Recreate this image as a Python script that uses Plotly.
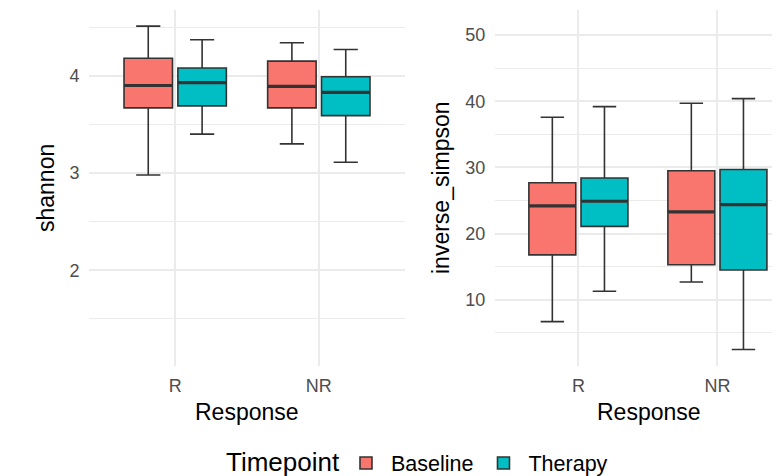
import plotly.graph_objects as go

# ---- data ----
responses = ["R", "NR"]
timepoints = ["Baseline", "Therapy"]
colors = {"Baseline": "#F8766D", "Therapy": "#00BFC4"}

# shannon: per timepoint, values for R and NR
shannon_low = {"Baseline": [2.98, 3.30], "Therapy": [3.40, 3.11]}
shannon_q1 = {"Baseline": [3.67, 3.67], "Therapy": [3.69, 3.59]}
shannon_med = {"Baseline": [3.90, 3.89], "Therapy": [3.93, 3.83]}
shannon_q3 = {"Baseline": [4.18, 4.15], "Therapy": [4.08, 3.99]}
shannon_high = {"Baseline": [4.51, 4.34], "Therapy": [4.37, 4.27]}

# inverse_simpson
invs_low = {"Baseline": [6.7, 12.7], "Therapy": [11.3, 2.5]}
invs_q1 = {"Baseline": [16.8, 15.3], "Therapy": [21.1, 14.5]}
invs_med = {"Baseline": [24.2, 23.3], "Therapy": [24.9, 24.4]}
invs_q3 = {"Baseline": [27.7, 29.5], "Therapy": [28.4, 29.7]}
invs_high = {"Baseline": [37.6, 39.7], "Therapy": [39.2, 40.4]}

shannon_ticks = [2, 3, 4]
invs_ticks = [10, 20, 30, 40, 50]

# ---- style ----
FONT = "Liberation Sans, Arial, sans-serif"
GRID = "#EBEBEB"
EDGE = "#333333"
BOXGAP = 0.25
GROUPGAP = 0.1
pos = list(range(len(responses)))
slot = (1 - BOXGAP) / len(timepoints)
half_w = slot * (1 - GROUPGAP) / 2

fig = go.Figure()

panels = [
    ("x", "y", shannon_low, shannon_q1, shannon_med, shannon_q3, shannon_high),
    ("x2", "y2", invs_low, invs_q1, invs_med, invs_q3, invs_high),
]
for pi, (xa, ya, lo, q1, md, q3, hi) in enumerate(panels):
    for ti, tp in enumerate(timepoints):
        fig.add_trace(go.Box(
            x=pos, lowerfence=lo[tp], q1=q1[tp], median=md[tp], q3=q3[tp],
            upperfence=hi[tp], name=tp, legendgroup=tp, showlegend=(pi == 0),
            fillcolor=colors[tp], line=dict(color=EDGE, width=1.6),
            offsetgroup=tp, boxpoints=False, xaxis=xa, yaxis=ya,
            hoverinfo="skip",
        ))
    # thicker median lines (ggplot fatten)
    for ti, tp in enumerate(timepoints):
        off = -slot / 2 + ti * slot
        for p, m in zip(pos, md[tp]):
            fig.add_trace(go.Scatter(
                x=[p + off - half_w, p + off + half_w], y=[m, m], mode="lines",
                line=dict(color=EDGE, width=3.2), showlegend=False,
                xaxis=xa, yaxis=ya, hoverinfo="skip",
            ))

# page has an 8px body margin: work in screen pixels, shift by OFF
OFF = 8
W, H = 780, 476
L = 89 - OFF
T = 10 - OFF
B = H - (366 - OFF)
R_ = 0
pw = W - L - R_
ph = H - T - B

def px_x(px):
    return (px - OFF - L) / pw

def px_y(py):
    return (H - B - (py - OFF)) / ph

# right panel: 139 px per category unit, starts at screen x=495
right_hi = -0.6 + ((W + OFF) - 495) / 139.0

tickfont = dict(family=FONT, size=18, color="#4D4D4D")
common_x = dict(tickvals=pos, ticktext=responses, showgrid=True, gridcolor=GRID,
                gridwidth=1.6, zeroline=False, showline=False, ticks="outside",
                ticklen=3, tickcolor="rgba(0,0,0,0)", tickfont=tickfont)
common_y = dict(showgrid=True, gridcolor=GRID, gridwidth=1.6, zeroline=False,
                showline=False, ticks="outside", ticklen=5,
                tickcolor="rgba(0,0,0,0)", tickfont=tickfont)

fig.update_layout(
    width=W, height=H,
    margin=dict(l=L, r=R_, t=T, b=B, autoexpand=False),
    paper_bgcolor="white", plot_bgcolor="white",
    boxmode="group", boxgap=BOXGAP, boxgroupgap=GROUPGAP,
    font=dict(family=FONT, color="black"),
    xaxis=dict(domain=[0, px_x(405)], range=[-0.6, 1.6], anchor="y", **common_x),
    xaxis2=dict(domain=[px_x(495), 1], range=[-0.6, right_hi], anchor="y2", **common_x),
    yaxis=dict(domain=[0, 1], range=[1.016, 4.676], tickvals=shannon_ticks,
               anchor="x",
               minor=dict(tickvals=[1.5, 2.5, 3.5, 4.5], showgrid=True,
                          gridcolor=GRID, gridwidth=1), **common_y),
    yaxis2=dict(domain=[0, 1], range=[0.0, 53.8], tickvals=invs_ticks,
                anchor="x2",
                minor=dict(tickvals=[5, 15, 25, 35, 45], showgrid=True,
                           gridcolor=GRID, gridwidth=1), **common_y),
    legend=dict(orientation="h", x=px_x(341), xanchor="left", y=px_y(463),
                yanchor="middle", font=dict(family=FONT, size=21.5, color="black"),
                itemwidth=40, bgcolor="rgba(0,0,0,0)"),
    showlegend=True,
)

title_font = dict(family=FONT, size=23, color="black")
fig.add_annotation(text="shannon", x=px_x(46), y=0.5, xref="paper", yref="paper",
                   textangle=-90, showarrow=False, font=title_font,
                   xanchor="center", yanchor="middle")
fig.add_annotation(text="inverse_simpson", x=px_x(441), y=0.5, xref="paper", yref="paper",
                   textangle=-90, showarrow=False, font=title_font,
                   xanchor="center", yanchor="middle")
fig.add_annotation(text="Response", x=px_x(246.5), y=px_y(412), xref="paper", yref="paper",
                   showarrow=False, font=title_font, xanchor="center", yanchor="middle")
fig.add_annotation(text="Response", x=px_x(648.5), y=px_y(412), xref="paper", yref="paper",
                   showarrow=False, font=title_font, xanchor="center", yanchor="middle")
fig.add_annotation(text="Timepoint", x=px_x(282.5), y=px_y(462), xref="paper", yref="paper",
                   showarrow=False, font=dict(family=FONT, size=26, color="black"),
                   xanchor="center", yanchor="middle", borderpad=0)

fig.write_html("out.html")
